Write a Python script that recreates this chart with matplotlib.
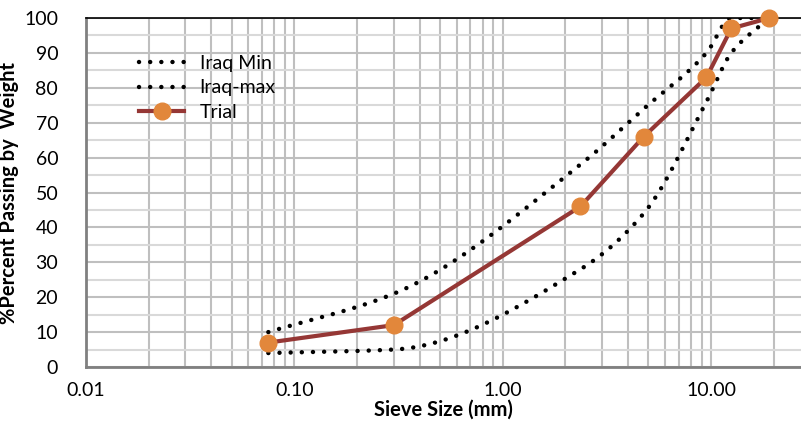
import matplotlib.pyplot as plt
import numpy as np
from matplotlib.ticker import FixedLocator, NullFormatter

plt.rcParams['font.family'] = ['Lato', 'DejaVu Sans']

# sieve sizes (mm)
sieves = [0.075, 0.3, 2.36, 4.75, 9.5, 12.5, 19]
iraqMin = [4, 5, 28, 44, 76, 90, 100]
iraqMax = [10, 21, 58, 74, 90, 100, 100]
trial = [7, 12, 46, 66, 83, 97, 100]

xTicks = [0.01, 0.1, 1, 10]
xTickLabels = ['0.01', '0.10', '1.00', '10.00']
yTicks = list(range(0, 101, 10))


def smoothCurve(xs, ys, n=30):
    # smoothed line (monotone cubic hermite in log-x space), no overshoot
    lx = np.log10(np.array(xs, dtype=float))
    y = np.array(ys, dtype=float)
    h = np.diff(lx)
    d = np.diff(y) / h
    m = np.zeros(len(lx))
    m[0] = d[0]
    m[-1] = d[-1]
    for i in range(1, len(lx) - 1):
        if d[i-1] * d[i] <= 0:
            m[i] = 0
        else:
            w1 = 2*h[i] + h[i-1]
            w2 = h[i] + 2*h[i-1]
            m[i] = (w1 + w2) / (w1/d[i-1] + w2/d[i])
    outX = []
    outY = []
    for i in range(len(lx) - 1):
        t = np.linspace(0, 1, n)
        h00 = 2*t**3 - 3*t**2 + 1
        h10 = t**3 - 2*t**2 + t
        h01 = -2*t**3 + 3*t**2
        h11 = t**3 - t**2
        outX.extend(lx[i] + t*h[i])
        outY.extend(h00*y[i] + h10*h[i]*m[i] + h01*y[i+1] + h11*h[i]*m[i+1])
    return 10**np.array(outX), np.array(outY)


fig = plt.figure(figsize=(8.01, 4.25), dpi=100)
ax = fig.add_axes([86/801, 58/425, 715/801, 349/425])

ax.set_xscale('log')
ax.set_xlim(0.01, 27)
ax.set_ylim(0, 100)

ax.xaxis.set_major_locator(FixedLocator(xTicks))
ax.set_xticklabels(xTickLabels)
minors = [m * 10.0**e for e in range(-2, 2) for m in range(2, 10)]
ax.xaxis.set_minor_locator(FixedLocator(minors))
ax.xaxis.set_minor_formatter(NullFormatter())
ax.set_yticks(yTicks)
ax.set_yticks(list(range(5, 100, 10)), minor=True)

ax.grid(which='major', axis='both', color='#BFBFBF', lw=1.5, zorder=0)
ax.grid(which='minor', axis='x', color='#BFBFBF', lw=1.5, zorder=0)
ax.grid(which='minor', axis='y', color='#D9D9D9', lw=1.5, zorder=0)
ax.tick_params(which='both', length=0)
ax.tick_params(axis='y', pad=20, labelsize=14)
ax.tick_params(axis='x', pad=11, labelsize=14)

dotStyle = dict(color='black', lw=3.2, linestyle=(0, (0.01, 2.5)), dash_capstyle='round', zorder=3)
mx, my = smoothCurve(sieves, iraqMin)
ax.plot(mx, my, label='Iraq Min', **dotStyle)
mx, my = smoothCurve(sieves, iraqMax)
ax.plot(mx, my, label='Iraq-max', **dotStyle)
ax.plot(sieves, trial, color='#953735', lw=3, marker='o', markersize=12,
        markerfacecolor='#E2873B', markeredgecolor='#E2873B', label='Trial', zorder=4,
        clip_on=False)

for s in ['left', 'bottom']:
    ax.spines[s].set_color('#808080')
    ax.spines[s].set_linewidth(2)
ax.spines['top'].set_color('black')
ax.spines['top'].set_linewidth(1.2)
ax.spines['right'].set_visible(False)

ax.set_xlabel('Sieve Size (mm)', fontsize=14.5, fontweight='bold', labelpad=0)
ax.set_ylabel('%Percent Passing by  Weight', fontsize=14.5, fontweight='bold', labelpad=4)

leg = ax.legend(loc='upper left', bbox_to_anchor=(0.05, 0.945), frameon=False,
                fontsize=14, handlelength=2.3, labelspacing=0.4, handletextpad=0.8)

fig.savefig('out.png', dpi=100)
